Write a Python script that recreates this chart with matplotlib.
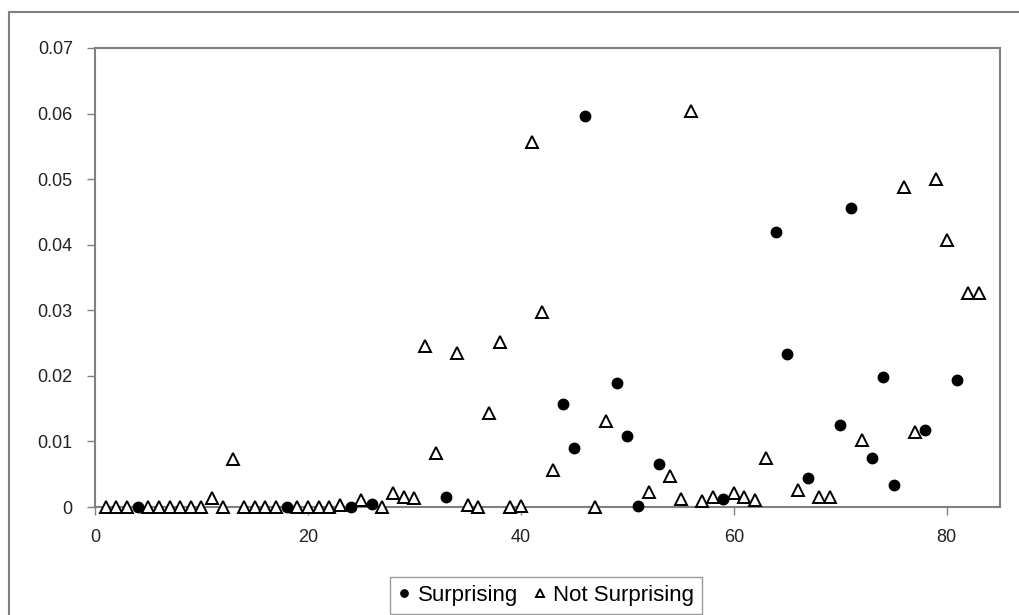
import numpy as np
import matplotlib
matplotlib.use('Agg')
import matplotlib.pyplot as plt
from matplotlib.patches import Rectangle

plt.rcParams['font.family'] = ['Liberation Sans', 'DejaVu Sans']

# surprising (filled circles)
x_surp = [4, 18, 24, 26, 33, 44, 45, 46, 49, 50, 51, 53, 59, 64, 65, 67, 70, 71, 73, 74, 75, 78, 81]
y_surp = [0, 0, 0, 0.0004, 0.0015, 0.0157, 0.009, 0.0597, 0.0189, 0.0109, 0.0002, 0.0065, 0.0012,
          0.042, 0.0233, 0.0044, 0.0125, 0.0456, 0.0075, 0.0199, 0.0034, 0.0117, 0.0194]

# not surprising (open triangles)
x_not = [1, 2, 3, 5, 6, 7, 8, 9, 10,
         11, 12, 13, 14, 15, 16, 17,
         19, 20, 21, 22, 23,
         25, 27, 28, 29, 30, 31, 32,
         34, 35, 36, 37, 38, 39, 40, 41, 42, 43,
         47, 48,
         52, 54, 55, 56, 57, 58,
         60, 61, 62, 63,
         66, 68, 69,
         72, 76, 77, 79, 80, 82, 83]
y_not = [0, 0, 0, 0, 0, 0, 0, 0, 0,
         0.0013, 0, 0.0073, 0, 0, 0, 0,
         0, 0, 0, 0, 0.0003,
         0.0011, 0, 0.0022, 0.0015, 0.0014, 0.0246, 0.0083,
         0.0235, 0.0003, 0, 0.0144, 0.0251, 0, 0.0002, 0.0557, 0.0297, 0.0057,
         0, 0.0131,
         0.0023, 0.0047, 0.0012, 0.0604, 0.0009, 0.0016,
         0.0022, 0.0015, 0.001, 0.0075,
         0.0026, 0.0015, 0.0015,
         0.0102, 0.0488, 0.0115, 0.05, 0.0407, 0.0326, 0.0326]

xticks = [0, 20, 40, 60, 80]
yticks = [0, 0.01, 0.02, 0.03, 0.04, 0.05, 0.06, 0.07]
ytick_labels = ['0', '0.01', '0.02', '0.03', '0.04', '0.05', '0.06', '0.07']

fig = plt.figure(figsize=(10.2, 6.15), dpi=100)
fig.subplots_adjust(left=95/1020., right=1000/1020., top=1-48/615., bottom=1-507/615.)
ax = fig.add_subplot(111)

# outer chart frame (runs off the right and bottom)
fig.patches.append(Rectangle((9/1020., -0.05), 1.1, 1-12/615.+0.05, transform=fig.transFigure,
                             fill=False, edgecolor='#808080', linewidth=1.5, clip_on=False))

h2, = ax.plot(x_not, y_not, linestyle='none', marker='^', markersize=8.5, markerfacecolor='white',
              markeredgecolor='black', markeredgewidth=1.4, clip_on=False, zorder=3)
h1, = ax.plot(x_surp, y_surp, linestyle='none', marker='o', markersize=7.5, color='black',
              clip_on=False, zorder=4)

ax.set_xlim(0, 85)
ax.set_ylim(0, 0.07)
ax.set_xticks(xticks)
ax.set_yticks(yticks)
ax.set_yticklabels(ytick_labels)
for s in ax.spines.values():
    s.set_color('#808080')
    s.set_linewidth(1.5)
ax.tick_params(axis='both', direction='out', length=6, width=1, color='#808080',
               labelsize=13, labelcolor='#222222', pad=10)

leg = fig.legend([h1, h2], ['Surprising', 'Not Surprising'], ncol=2, loc='upper center',
                 bbox_to_anchor=(546/1020., 1-566/615.), fontsize=16, frameon=True,
                 fancybox=False, edgecolor='#808080', markerscale=0.7, handlelength=0.6,
                 handletextpad=0.3, columnspacing=0.7, borderpad=0.35)
leg.get_frame().set_linewidth(1.0)

plt.savefig('out.png', dpi=100)
